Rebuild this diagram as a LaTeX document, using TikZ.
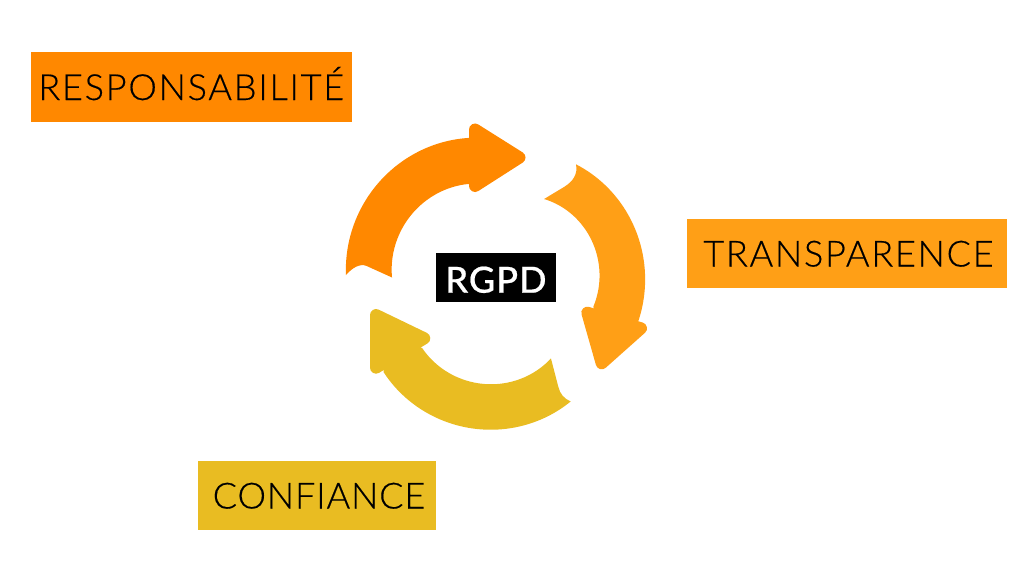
\documentclass[tikz,border=0pt]{standalone}
\usepackage{fontspec}
\setmainfont{Lato}
\newfontfamily\labelfont[LetterSpace=5,FakeBold=0.4]{Lato Light}
\newfontfamily\labelfontb[LetterSpace=2.5,FakeBold=0.4]{Lato Light}
\newfontfamily\centerfont[LetterSpace=3,FakeBold=0.6]{Lato Medium}
\definecolor{corange}{HTML}{FF8800}
\definecolor{clight}{HTML}{FF9F16}
\definecolor{cyellow}{HTML}{E9BC22}
\tikzset{
  label box/.style={rectangle,inner sep=0pt,text=black,font=\labelfont\fontsize{36}{36}\selectfont,minimum height=69.5pt,text height=26pt,text depth=0pt},
  center box/.style={rectangle,fill=black,inner sep=0pt,text=white,font=\centerfont\fontsize{36}{36}\selectfont,minimum width=120.5pt,minimum height=49pt,text height=29.8pt,text depth=0pt},
  spiral/.style={samples=41,smooth},
  arrow head/.style={line width=12pt,line join=round},
}
% polar curve about the ring's centre: #1 start angle, #2 end angle, #3 r0, #4 rm, #5 r1; parameter \x in [0,1]
\newcommand{\ringplot}[5]{plot[spiral,domain=0:1] ({494.5+((1-\x)*(1-\x)*#3+2*\x*(1-\x)*#4+\x*\x*#5)*cos(#1+(#2-#1)*\x)},{279.5-((1-\x)*(1-\x)*#3+2*\x*(1-\x)*#4+\x*\x*#5)*sin(#1+(#2-#1)*\x)})}
\newcommand{\ringto}[5]{-- plot[spiral,domain=0:1] ({494.5+((1-\x)*(1-\x)*#3+2*\x*(1-\x)*#4+\x*\x*#5)*cos(#1+(#2-#1)*\x)},{279.5-((1-\x)*(1-\x)*#3+2*\x*(1-\x)*#4+\x*\x*#5)*sin(#1+(#2-#1)*\x)})}
\begin{document}
\begin{tikzpicture}[x=1pt,y=-1pt]
\useasboundingbox (0,0) rectangle (1024,576);
\node[label box,fill=corange,minimum width=320.5pt] (resp) at (191.3,87) {RESPONSABILITÉ};
\node[label box,fill=clight,minimum width=320pt] (trans) at (847,253.5) {\hspace*{3pt}TRANSPARENCE};
\node[label box,fill=cyellow,minimum width=238pt] (conf) at (317,495.5) {\labelfontb\hspace*{4pt}CONFIANCE};
\node[center box] (rgpd) at (496,277.8) {RGPD};
% orange arrow
\fill[corange] \ringplot{178.3}{100.6}{148.6}{155.7}{144}
  -- (482,138) -- (482,184)
  \ringto{105.5}{178.9}{99.1}{110}{102.5}
  -- (366.7,266) .. controls (360,263) and (352,268) .. (346,275) -- cycle;
\filldraw[corange,arrow head] (475,129.5) -- (519.5,157.5) -- (475,186) -- cycle;
% light orange arrow
\fill[clight] \ringplot{54.7}{-16.5}{141.1}{153.6}{149.7}
  -- (632,336) -- (598,327)
  \ringto{-15.4}{58.4}{102.5}{111}{94.5}
  -- (564,187) .. controls (573,181.5) and (578,174) .. (576,164.3) -- cycle;
\filldraw[clight,arrow head] (641,328.3) -- (601.7,363.3) -- (587.3,312.7) -- cycle;
% yellow arrow
\fill[cyellow] \ringplot{-58}{-140.2}{143.8}{157}{144.5}
  -- (385,355) -- (408,340)
  \ringto{-136.4}{-54.4}{99.7}{111.6}{97}
  -- (558.3,386.7) .. controls (560,394) and (564,398.5) .. (570.7,401.5) -- cycle;
\filldraw[cyellow,arrow head] (376,367.7) -- (376,315) -- (424.3,338.3) -- cycle;
\end{tikzpicture}
\end{document}
